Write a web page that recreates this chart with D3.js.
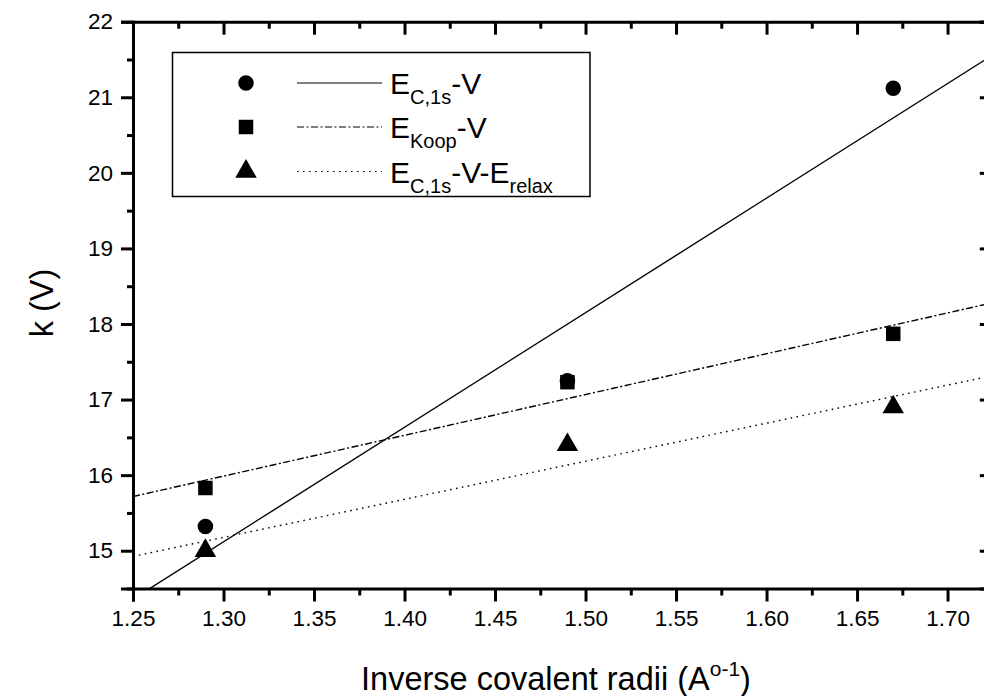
<!DOCTYPE html>
<html><head><meta charset="utf-8">
<script src="https://cdn.jsdelivr.net/npm/d3@7"></script>
<style>body{margin:0;background:#fff}svg{display:block}text{font-family:"Liberation Sans",Arial,Helvetica,sans-serif;fill:#000}</style>
</head><body>
<svg id="c" width="984" height="696"></svg>
<script>
// Data
const xValues = [1.29, 1.49, 1.67];
const seriesC1s = [15.32, 17.25, 21.12];      // circles, E_C,1s - V
const seriesKoop = [15.83, 17.23, 17.87];     // squares, E_Koop - V
const seriesRelax = [15.00, 16.40, 16.90];    // triangles, E_C,1s - V - E_relax
const xMajorTicks = [1.25,1.30,1.35,1.40,1.45,1.50,1.55,1.60,1.65,1.70];
const xMinorTicks = [1.275,1.325,1.375,1.425,1.475,1.525,1.575,1.625,1.675,1.725];
const yMajorTicks = [15,16,17,18,19,20,21,22];
const yMinorTicks = [14.5,15.5,16.5,17.5,18.5,19.5,20.5,21.5];

const svg = d3.select("#c");
const L = 133, T = 21.7, B = 588.5, R = 992.8;
const x = d3.scaleLinear().domain([1.25, 1.725]).range([L, R]);
const y = d3.scaleLinear().domain([14.5, 22]).range([B, T]);

function fit(xs, ys){
  const mx = d3.mean(xs), my = d3.mean(ys);
  let sxy = 0, sxx = 0;
  xs.forEach((v,i)=>{ sxy += (v-mx)*(ys[i]-my); sxx += (v-mx)*(v-mx); });
  const b = sxy/sxx, a = my - b*mx;
  return t => a + b*t;
}

svg.append("defs").append("clipPath").attr("id","pc")
  .append("rect").attr("x",L).attr("y",T).attr("width",R-L).attr("height",B-T);

const series = [
  {ys: seriesC1s, dash: null, sym: d3.symbolCircle, size: 190},
  {ys: seriesKoop, dash: "7,2.5,2,2.5", sym: d3.symbolSquare, size: 210},
  {ys: seriesRelax, dash: "1.6,4.4", sym: d3.symbolTriangle, size: 200}
];

// Fit lines
const g = svg.append("g").attr("clip-path","url(#pc)");
series.forEach(s=>{
  const f = fit(xValues, s.ys);
  const dom = x.domain();
  g.append("line")
    .attr("x1", x(dom[0])).attr("y1", y(f(dom[0])))
    .attr("x2", x(dom[1])).attr("y2", y(f(dom[1])))
    .attr("stroke","#000").attr("stroke-width",1.4)
    .attr("stroke-dasharray", s.dash);
});

// Markers
series.forEach(s=>{
  svg.append("g").selectAll("path").data(xValues).join("path")
    .attr("transform",(d,i)=>`translate(${x(d)},${y(s.ys[i])})`)
    .attr("d", d3.symbol().type(s.sym).size(s.size)())
    .attr("fill","#000");
});

// Axes
function styleAxis(sel){
  sel.attr("font-size",null).attr("font-family",null);
  sel.select(".domain").attr("stroke","#000").attr("stroke-width",3);
  sel.selectAll(".tick line").attr("stroke","#000").attr("stroke-width",3);
  sel.selectAll(".tick text").attr("font-size",22.5).style("font-size","22.5px")
    .style("font-family",'"Liberation Sans",Arial,sans-serif');
}
const ax = svg.append("g").attr("transform",`translate(0,${B})`)
  .call(d3.axisBottom(x).tickValues(xMajorTicks).tickSize(13).tickPadding(9).tickFormat(d3.format(".2f")));
styleAxis(ax);
const axm = svg.append("g").attr("transform",`translate(0,${B})`)
  .call(d3.axisBottom(x).tickValues(xMinorTicks).tickSize(7).tickFormat(""));
styleAxis(axm); axm.select(".domain").remove();

const at = svg.append("g").attr("transform",`translate(0,${T})`)
  .call(d3.axisTop(x).tickValues(xMajorTicks).tickSize(-13).tickFormat(""));
styleAxis(at);
const atm = svg.append("g").attr("transform",`translate(0,${T})`)
  .call(d3.axisTop(x).tickValues(xMinorTicks).tickSize(-7).tickFormat(""));
styleAxis(atm); atm.select(".domain").remove();

const ay = svg.append("g").attr("transform",`translate(${L},0)`)
  .call(d3.axisLeft(y).tickValues(yMajorTicks).tickSize(12).tickPadding(8).tickFormat(d3.format("d")));
styleAxis(ay);
const aym = svg.append("g").attr("transform",`translate(${L},0)`)
  .call(d3.axisLeft(y).tickValues(yMinorTicks).tickSize(6).tickFormat(""));
styleAxis(aym); aym.select(".domain").remove();

const ar = svg.append("g").attr("transform",`translate(${R},0)`)
  .call(d3.axisRight(y).tickValues(yMajorTicks).tickSize(-13).tickFormat(""));
styleAxis(ar);
const arm = svg.append("g").attr("transform",`translate(${R},0)`)
  .call(d3.axisRight(y).tickValues(yMinorTicks).tickSize(-7).tickFormat(""));
styleAxis(arm); arm.select(".domain").remove();

// Axis titles
const xt = svg.append("text").attr("x",556).attr("y",690).attr("text-anchor","middle").style("font-size","32.5px");
xt.append("tspan").text("Inverse covalent radii (A");
xt.append("tspan").attr("dy",-14).style("font-size","21px").text("o-1");
xt.append("tspan").attr("dy",14).text(")");

svg.append("text").attr("transform","translate(53,303) rotate(-90)")
  .attr("text-anchor","middle").style("font-size","32.5px").text("k (V)");

// Legend
const lg = svg.append("g");
lg.append("rect").attr("x",172.5).attr("y",52.5).attr("width",417.5).attr("height",144)
  .attr("fill","#fff").attr("stroke","#000").attr("stroke-width",1.5);
const legendRows = [
  {y: 83, parts: [["E",0],["C,1s",1],["-V",0]]},
  {y: 127, parts: [["E",0],["Koop",1],["-V",0]]},
  {y: 171.5, parts: [["E",0],["C,1s",1],["-V-E",0],["relax",1]]}
];
legendRows.forEach((r,i)=>{
  const s = series[i];
  lg.append("path").attr("transform",`translate(246,${r.y})`)
    .attr("d", d3.symbol().type(s.sym).size(s.size)()).attr("fill","#000");
  lg.append("line").attr("x1",297).attr("x2",382).attr("y1",r.y).attr("y2",r.y)
    .attr("stroke","#000").attr("stroke-width",1.2).attr("stroke-dasharray", s.dash);
  const t = lg.append("text").attr("x",390).attr("y",r.y+11).style("font-size","30px");
  let sub = false;
  r.parts.forEach(([txt,isSub])=>{
    const ts = t.append("tspan").text(txt);
    if(isSub && !sub){ ts.attr("dy",10).style("font-size","20px"); sub = true; }
    else if(!isSub && sub){ ts.attr("dy",-10); sub = false; }
  });
});
</script>
</body></html>
